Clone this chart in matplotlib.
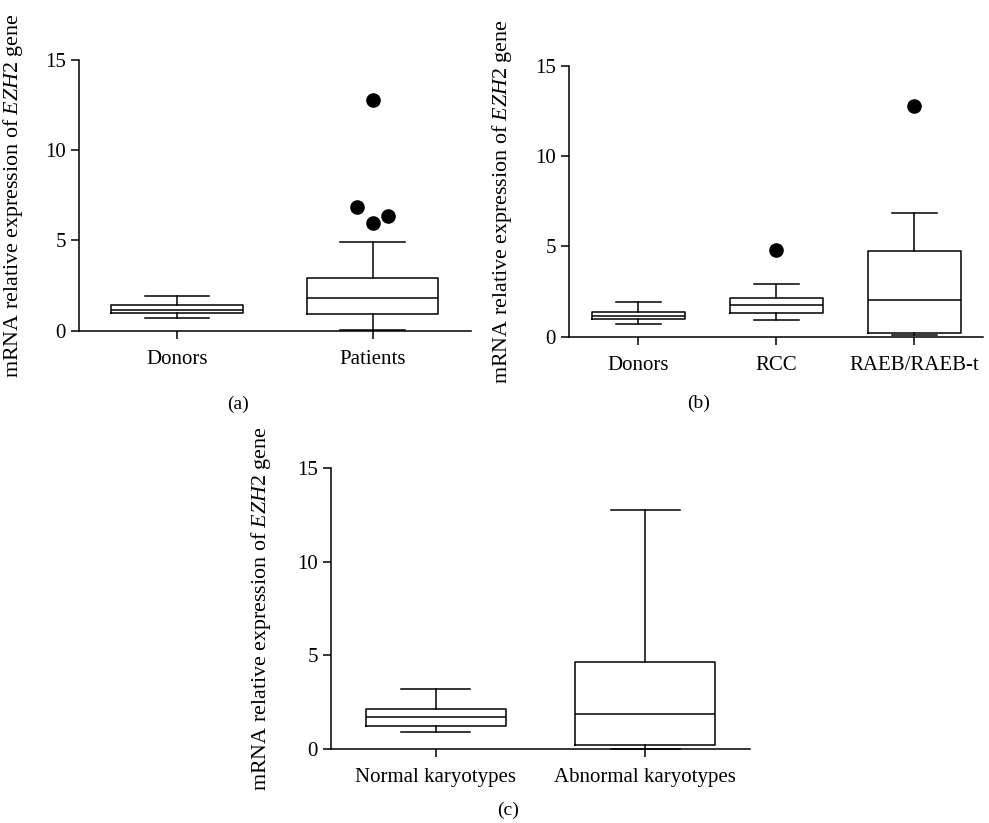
import matplotlib
matplotlib.use("Agg")
import matplotlib.pyplot as plt

plt.rcParams["font.family"] = ["Liberation Serif", "DejaVu Serif"]
plt.rcParams["mathtext.fontset"] = "custom"
plt.rcParams["mathtext.rm"] = "Liberation Serif"
plt.rcParams["mathtext.it"] = "Liberation Serif:italic"

# --- values (whislo, q1, med, q3, whishi) ---
a_labels = ["Donors", "Patients"]
a_whislo = [0.70, 0.02]
a_q1 = [0.96, 0.94]
a_med = [1.16, 1.79]
a_q3 = [1.40, 2.92]
a_whishi = [1.94, 4.90]
a_fliers = [[], [12.80, 6.84, 5.95, 6.34]]

b_labels = ["Donors", "RCC", "RAEB/RAEB-t"]
b_whislo = [0.72, 0.94, 0.07]
b_q1 = [0.98, 1.29, 0.22]
b_med = [1.16, 1.74, 2.05]
b_q3 = [1.39, 2.16, 4.77]
b_whishi = [1.94, 2.90, 6.84]
b_fliers = [[], [4.80], [12.78]]

c_labels = ["Normal karyotypes", "Abnormal karyotypes"]
c_whislo = [0.93, 0.02]
c_q1 = [1.25, 0.23]
c_med = [1.71, 1.85]
c_q3 = [2.12, 4.65]
c_whishi = [3.19, 12.79]
c_fliers = [[], []]

# horizontal spread of overlapping outliers (Prism style)
a_flier_dx = [[], [0.0, -0.08, 0.0, 0.08]]

YLABEL = r"mRNA relative expression of $\it{EZH2}$ gene"


def draw_panel(ax, labels, whislo, q1, med, q3, whishi, fliers, flier_dx=None):
    stats = []
    for i, lab in enumerate(labels):
        stats.append(dict(label=lab, whislo=whislo[i], q1=q1[i], med=med[i],
                          q3=q3[i], whishi=whishi[i], fliers=[]))
    pos = list(range(1, len(labels) + 1))
    line = dict(color="black", linewidth=1.1)
    ax.bxp(stats, positions=pos, widths=0.67, capwidths=0.33,
           boxprops=line, whiskerprops=line, capprops=line,
           medianprops=line, showfliers=False)
    for artist in ax.lines:
        artist.set_clip_on(False)
    for i, vals in enumerate(fliers):
        for j, v in enumerate(vals):
            dx = flier_dx[i][j] if flier_dx else 0.0
            ax.plot(pos[i] + dx, v, "o", color="black", markersize=9.5,
                    clip_on=False)

    ax.set_xlim(0.5, len(labels) + 0.5)
    ax.set_ylim(0, 15)
    ax.set_yticks([0, 5, 10, 15])
    ax.spines["top"].set_visible(False)
    ax.spines["right"].set_visible(False)
    ax.spines["left"].set_linewidth(1.1)
    ax.spines["bottom"].set_linewidth(1.1)
    ax.tick_params(direction="out", length=6, width=1.1, labelsize=15)
    ax.tick_params(axis="x", pad=8)
    ax.set_ylabel(YLABEL, fontsize=15.8)


W, H = 989, 823
fig = plt.figure(figsize=(W / 100, H / 100), dpi=100)

ax_a = fig.add_axes([79 / W, 1 - 330.7 / H, 391.7 / W, 270.7 / H])
ax_b = fig.add_axes([569.3 / W, 1 - 336.7 / H, 414 / W, 270.7 / H])
ax_c = fig.add_axes([331 / W, 1 - 749 / H, 419 / W, 280.7 / H])

draw_panel(ax_a, a_labels, a_whislo, a_q1, a_med, a_q3, a_whishi, a_fliers, a_flier_dx)
draw_panel(ax_b, b_labels, b_whislo, b_q1, b_med, b_q3, b_whishi, b_fliers)
draw_panel(ax_c, c_labels, c_whislo, c_q1, c_med, c_q3, c_whishi, c_fliers)

ax_a.yaxis.set_label_coords(-0.138, 0.5)
ax_b.yaxis.set_label_coords(-0.134, 0.5)
ax_c.yaxis.set_label_coords(-0.138, 0.5)

fig.text(238 / W, 1 - 404 / H, "(a)", ha="center", va="center", fontsize=14)
fig.text(699 / W, 1 - 403 / H, "(b)", ha="center", va="center", fontsize=14)
fig.text(508 / W, 1 - 810 / H, "(c)", ha="center", va="center", fontsize=14)

fig.savefig("out.png", dpi=100)
